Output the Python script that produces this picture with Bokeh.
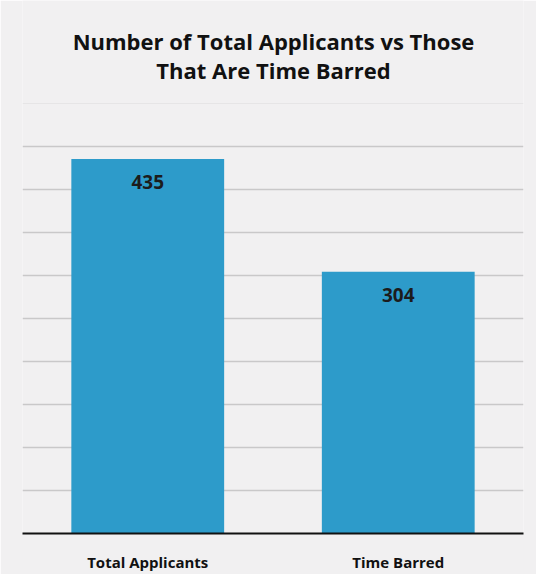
from bokeh.plotting import figure
from bokeh.models import ColumnDataSource, FactorRange, Range1d, FixedTicker, Grid, Label
from bokeh.core.properties import value
from bokeh.embed import file_html
from bokeh.resources import INLINE

categories = ["Total Applicants", "Time Barred"]
counts = [435, 304]
count_labels = ["435", "304"]
grid_ticks = [50, 100, 150, 200, 250, 300, 350, 400, 450]
title_lines = ["Number of Total Applicants vs Those", "That Are Time Barred"]

FONT = "Open Sans"

p = figure(width=536, height=574, output_backend="svg", toolbar_location=None,
           x_range=FactorRange(*categories, range_padding=0),
           y_range=Range1d(0, 619.2),
           min_border_left=22, min_border_right=13, min_border_top=0, min_border_bottom=39)
p.background_fill_color = "#f1f0f1"
p.border_fill_color = "#f1f0f1"
p.outline_line_color = None

src = ColumnDataSource(dict(cat=categories, val=counts, lab=count_labels))
p.vbar(x="cat", top="val", width=0.61, source=src, fill_color="#2d9bca", line_color=None)
p.text(x="cat", y="val", text="lab", source=src, text_align="center", text_baseline="middle",
       y_offset=23, text_font=value(FONT), text_font_style="bold", text_font_size="19px",
       text_color="#1c1c1c")

# screen units are measured from the frame's bottom-left corner (frame: x 22..523, y 0..535)
for i, line in enumerate(title_lines):
    p.add_layout(Label(x=251, y=535 - 42 - 29 * i, x_units="screen", y_units="screen",
                       text=line, text_align="center", text_baseline="middle",
                       text_font=FONT, text_font_style="bold", text_font_size="22px",
                       text_color="#111111"))

p.yaxis.visible = False
p.xgrid.visible = False
p.ygrid.ticker = FixedTicker(ticks=grid_ticks)
p.ygrid.grid_line_color = "#c9c8c9"
p.ygrid.grid_line_width = 1.5
p.add_layout(Grid(dimension=1, ticker=FixedTicker(ticks=[500]), grid_line_color="#e6e5e6"))

ax = p.xaxis[0]
ax.axis_line_color = "#111111"
ax.axis_line_width = 2
ax.major_tick_line_color = None
ax.minor_tick_line_color = None
ax.major_label_text_font = FONT
ax.major_label_text_font_style = "bold"
ax.major_label_text_font_size = "15px"
ax.major_label_text_color = "#111111"
ax.major_label_standoff = 12

open("out.html", "w").write(file_html(p, INLINE))
